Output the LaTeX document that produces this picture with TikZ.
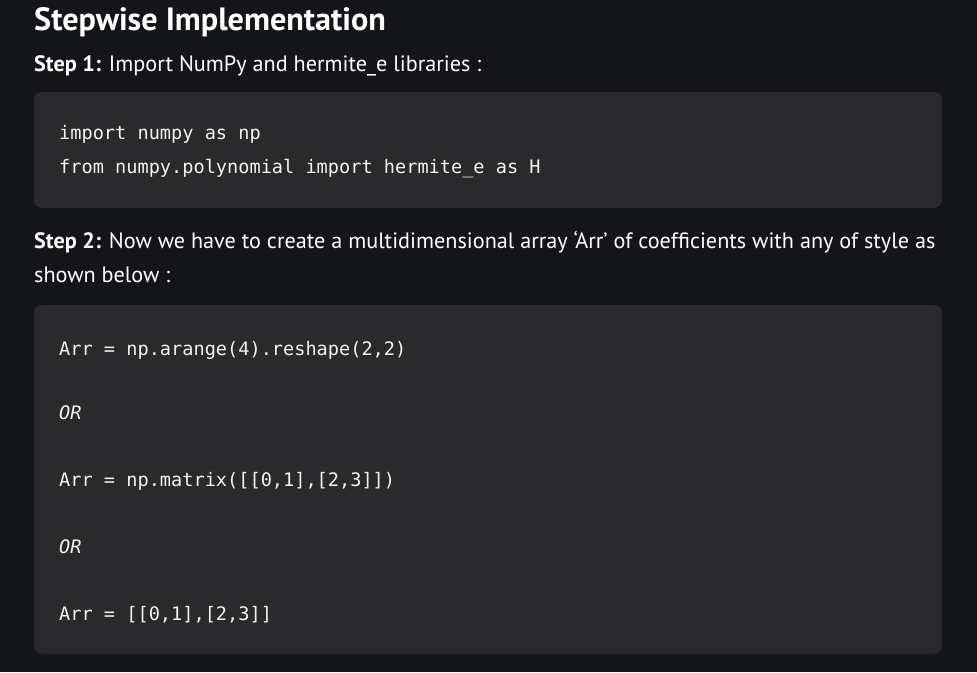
\documentclass[tikz,border=0pt]{standalone}
\usepackage{fontspec}
\setmainfont{PT Sans}
\setmonofont{DejaVu Sans Mono}
\usepackage{xcolor}
\usetikzlibrary{positioning}
\definecolor{page}{HTML}{141519}
\definecolor{codebg}{HTML}{2A2A2D}
\definecolor{text}{HTML}{FFFFFF}
\definecolor{codetext}{HTML}{F2F2F2}
\tikzset{
  codebox/.style={fill=codebg, rounded corners=8pt},
  title/.style={text=text, font=\fontsize{32.2}{36}\selectfont\bfseries, anchor=base west, inner sep=0pt},
  body/.style={text=text, font=\fontsize{22.2}{26}\selectfont, anchor=base west, inner sep=0pt},
  code/.style={text=codetext, font=\fontsize{18.6}{22}\selectfont\ttfamily, anchor=base west, inner sep=0pt},
  codeit/.style={code, font=\fontsize{18.6}{22}\selectfont\ttfamily\itshape},
}

\begin{document}
\begin{tikzpicture}[x=1pt,y=-1pt]
  \useasboundingbox (0,0) rectangle (977,672);
  \fill[page] (0,0) rectangle (977,672);
  % heading and step 1
  \node[title] (head) at (34,30) {Stepwise Implementation};
  \node[body] (stepone) at (34,71) {\textbf{Step 1:} Import NumPy and hermite\_e libraries :};
  \fill[codebox] (34,92) rectangle (942,208);
  \node[code] (imp) at (59,139) {import numpy as np};
  \node[code] (from) at (59,173) {from numpy.polynomial import hermite\_e as H};
  % step 2
  \node[body] (steptwo) at (34,248) {\textbf{Step 2:} Now we have to create a multidimensional array ‘Arr’ of coefficients with any of style as};
  \node[body] (shown) at (34,282) {shown below :};
  \fill[codebox] (34,305) rectangle (942,654);
  \node[code] (arange) at (59,355) {Arr = np.arange(4).reshape(2,2)};
  \node[codeit] (orone) at (59,419) {OR};
  \node[code] (matrix) at (59,486) {Arr = np.matrix([[0,1],[2,3]])};
  \node[codeit] (ortwo) at (59,553) {OR};
  \node[code] (list) at (59,620) {Arr = [[0,1],[2,3]]};
\end{tikzpicture}
\end{document}
